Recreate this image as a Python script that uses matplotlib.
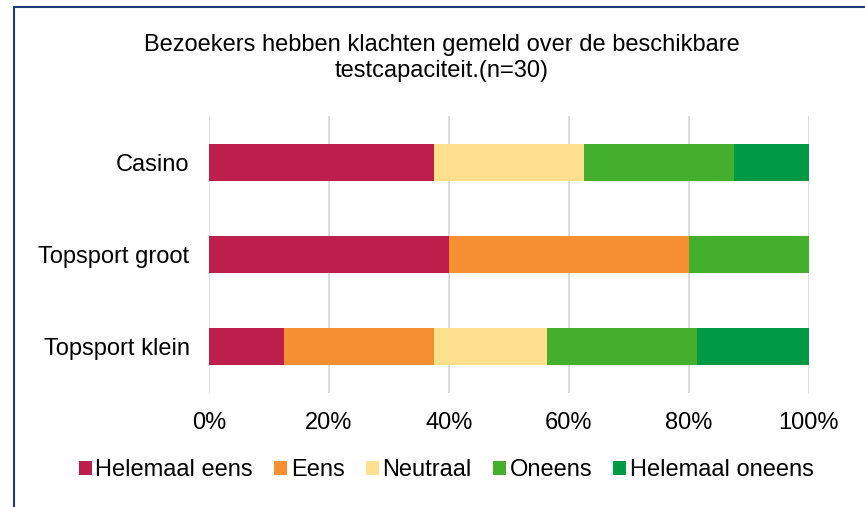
import matplotlib.pyplot as plt
import numpy as np
from matplotlib.patches import Rectangle

plt.rcParams['font.family'] = ['Liberation Sans', 'DejaVu Sans']

categorieen = ["Casino", "Topsport groot", "Topsport klein"]
antwoorden = ["Helemaal eens", "Eens", "Neutraal", "Oneens", "Helemaal oneens"]
helemaal_eens = [37.5, 40.0, 12.5]
eens = [0.0, 40.0, 25.0]
neutraal = [25.0, 0.0, 18.75]
oneens = [25.0, 20.0, 25.0]
helemaal_oneens = [12.5, 0.0, 18.75]
kleuren = ["#BE1E4B", "#F58F32", "#FFE08E", "#44AF2C", "#009A44"]

series = [helemaal_eens, eens, neutraal, oneens, helemaal_oneens]

fs = 17

fig = plt.figure(figsize=(8.65, 5.07), dpi=100)
ax = fig.add_axes([209 / 865, 1 - 393 / 507, 600 / 865, 277 / 507])

y = np.arange(len(categorieen))
links = np.zeros(len(categorieen))
for naam, waarden, kleur in zip(antwoorden, series, kleuren):
    ax.barh(y, waarden, left=links, height=0.4, color=kleur, label=naam, zorder=3)
    links += np.array(waarden)

ax.set_xlim(0, 100)
ax.set_ylim(2.5, -0.5)
ax.set_yticks(y)
ax.set_yticklabels(categorieen, fontsize=fs)
ax.set_xticks(np.arange(0, 101, 20))
ax.set_xticklabels([f"{t}%" for t in range(0, 101, 20)], fontsize=fs)
ax.tick_params(length=0)
ax.tick_params(axis='y', pad=14)
ax.tick_params(axis='x', pad=14)
ax.grid(axis='x', color='#D9D9D9', linewidth=1.3, zorder=0)
for s in ax.spines.values():
    s.set_visible(False)

fig.text(0.511, 1 - 58 / 507, "Bezoekers hebben klachten gemeld over de beschikbare\ntestcapaciteit.(n=30)",
         ha='center', va='center', fontsize=fs, linespacing=1.25)

leg = fig.legend(loc='center', bbox_to_anchor=(0.516, 1 - 470 / 507), ncol=5, frameon=False,
                 fontsize=fs, handlelength=0.55, handleheight=0.55, handletextpad=0.15,
                 columnspacing=0.9)

# blauwe rand
fig.patches.append(Rectangle((14 / 865, -0.1), 1.0, 1 - 7 / 507 + 0.1, transform=fig.transFigure,
                             fill=False, edgecolor='#1F3A78', linewidth=1.5))

plt.savefig("out.png", dpi=100)
plt.close()
